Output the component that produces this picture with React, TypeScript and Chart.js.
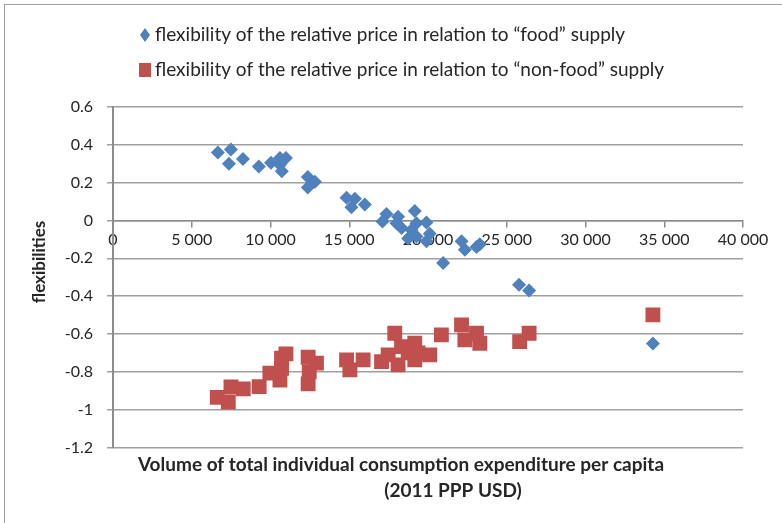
import React, { useEffect, useRef } from 'react';
import { Chart, registerables } from 'chart.js';

Chart.register(...registerables);

const foodX = [6660, 7490, 7360, 8250, 9260, 10030, 10600, 10980, 10600, 10720, 12370, 12820, 12370,
  14830, 15360, 15140, 15990, 17360, 17110, 18100, 18000, 19160, 18320, 19270, 19900, 18950, 18740, 19270, 20110, 19900, 20960, 22130, 22340, 23080, 23290,
  25780, 26420, 34280];
const foodY = [0.36, 0.375, 0.30, 0.325, 0.285, 0.305, 0.33, 0.33, 0.295, 0.26, 0.23, 0.205, 0.175,
  0.12, 0.115, 0.07, 0.085, 0.035, -0.005, 0.02, -0.015, 0.05, -0.04, -0.015, -0.01, -0.05, -0.095, -0.085, -0.07, -0.11, -0.225, -0.11, -0.155, -0.14, -0.125,
  -0.34, -0.37, -0.65];

const nonFoodX = [6620, 7320, 7490, 8270, 9280, 9960, 10600, 10700, 10980, 10700, 12390, 12920, 12460, 12390,
  14830, 15040, 15880, 17050, 17470, 17890, 18100, 18320, 18740, 19160, 19370, 19160, 20110, 20850, 22130, 22340, 23080, 23290,
  25820, 26420, 34280];
const nonFoodY = [-0.935, -0.96, -0.88, -0.89, -0.878, -0.807, -0.843, -0.728, -0.705, -0.781, -0.723, -0.754, -0.80, -0.864,
  -0.737, -0.79, -0.737, -0.746, -0.71, -0.596, -0.763, -0.667, -0.70, -0.649, -0.70, -0.737, -0.71, -0.605, -0.552, -0.631, -0.596, -0.649,
  -0.64, -0.596, -0.499];

const seriesNames = [
  'flexibility of the relative price in relation to \u201cfood\u201d supply',
  'flexibility of the relative price in relation to \u201cnon-food\u201d supply',
];
const yTitle = 'flexibilities';
const xTitleLines = ['Volume of total individual consumption expenditure per capita', '(2011 PPP USD)'];

const X_MIN = 0, X_MAX = 40000, X_STEP = 5000;
const Y_MIN = -1.2, Y_MAX = 0.6, Y_STEP = 0.2;

const BLUE = '#4f81bd';
const RED = '#c0504d';
const FONT = 'Lato, "Open Sans", sans-serif';
const TEXT = '#262626';

function toPoints(xs: number[], ys: number[]) {
  return xs.map((x, i) => ({ x, y: ys[i] }));
}

const decorPlugin = {
  id: 'decor',
  afterDraw(chart: any) {
    const ctx = chart.ctx as CanvasRenderingContext2D;
    const ca = chart.chartArea;
    ctx.save();
    // legend
    ctx.textBaseline = 'middle';
    ctx.textAlign = 'left';
    const lx = 145;
    const rows = [35, 70];
    ctx.fillStyle = BLUE;
    ctx.beginPath();
    ctx.moveTo(lx, rows[0] - 7);
    ctx.lineTo(lx + 5, rows[0]);
    ctx.lineTo(lx, rows[0] + 7);
    ctx.lineTo(lx - 5, rows[0]);
    ctx.closePath();
    ctx.fill();
    ctx.fillStyle = RED;
    ctx.fillRect(lx - 6, rows[1] - 7, 12, 14);
    ctx.fillStyle = TEXT;
    ctx.font = `19px ${FONT}`;
    ctx.fillText(seriesNames[0], lx + 10, rows[0]);
    ctx.fillText(seriesNames[1], lx + 10, rows[1]);

    // axis titles
    ctx.font = `bold 19px ${FONT}`;
    ctx.textAlign = 'center';
    ctx.fillText(xTitleLines[0], 401, ca.bottom + 17);
    ctx.fillText(xTitleLines[1], 453, ca.bottom + 43);
    ctx.font = `bold 17px ${FONT}`;
    ctx.translate(40, 262);
    ctx.rotate(-Math.PI / 2);
    ctx.fillText(yTitle, 0, 0);
    ctx.restore();
  },
};

function fmtX(v: number) {
  if (v === 0) return '0';
  return String(Math.round(v)).replace(/\B(?=(\d{3})+(?!\d))/g, ' ');
}
function fmtY(v: number) {
  const r = parseFloat(v.toFixed(1));
  return r === 0 ? '0' : String(r);
}

export default function App() {
  const ref = useRef<HTMLCanvasElement>(null);
  useEffect(() => {
    if (!ref.current) return;
    const chart = new Chart(ref.current, {
      type: 'scatter',
      data: {
        datasets: [
          {
            label: seriesNames[0],
            data: toPoints(foodX, foodY),
            pointStyle: 'rectRot',
            pointRadius: 7,
            backgroundColor: BLUE,
            borderColor: BLUE,
            borderWidth: 0,
          },
          {
            label: seriesNames[1],
            data: toPoints(nonFoodX, nonFoodY),
            pointStyle: 'rect',
            pointRadius: 10.5,
            backgroundColor: RED,
            borderColor: RED,
            borderWidth: 0,
          },
        ],
      },
      options: {
        animation: false,
        responsive: false,
        layout: { padding: { top: 107, right: 39, bottom: 75.5, left: 0 } },
        plugins: { legend: { display: false }, tooltip: { enabled: false } },
        scales: {
          x: {
            type: 'linear',
            position: { y: 0 },
            min: X_MIN,
            max: X_MAX,
            ticks: { stepSize: X_STEP, callback: (v: any) => fmtX(Number(v)), font: { family: FONT, size: 16 }, color: TEXT, padding: 4, maxRotation: 0 },
            grid: { drawOnChartArea: false, tickLength: 6, color: '#8c8c8c', lineWidth: 1.5 },
            border: { color: '#8c8c8c', width: 1.5 },
          },
          y: {
            type: 'linear',
            position: 'left',
            min: Y_MIN,
            max: Y_MAX,
            ticks: { stepSize: Y_STEP, callback: (v: any) => fmtY(Number(v)), font: { family: FONT, size: 16 }, color: TEXT, padding: 14 },
            grid: { color: '#a0a0a0', lineWidth: 1.5, tickLength: 6 },
            border: { color: '#8c8c8c', width: 2 },
            afterFit: (scale: any) => { scale.width = 113; },
          },
        },
      },
      plugins: [decorPlugin],
    });
    return () => chart.destroy();
  }, []);
  return (
    <div style={{ position: 'fixed', left: 0, top: 0, width: 782, height: 523, overflow: 'hidden', background: '#fff' }}>
      <div style={{ position: 'absolute', left: 4, top: 4, width: 800, height: 600, borderTop: '1px solid #a0a0a0', borderLeft: '1px solid #a0a0a0' }} />
      <canvas ref={ref} width={782} height={523} style={{ position: 'absolute', left: 0, top: 0 }} />
    </div>
  );
}
